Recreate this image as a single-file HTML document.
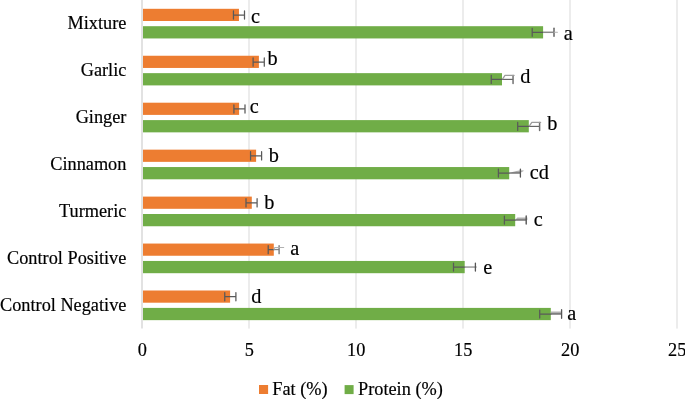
<!DOCTYPE html>
<html><head><meta charset="utf-8"><title>chart</title>
<style>
html,body{margin:0;padding:0;background:#fff;}
body{width:685px;height:399px;overflow:hidden;font-family:"Liberation Serif",serif;}
svg{display:block;will-change:transform;}
text{font-family:"Liberation Serif",serif;fill:#000;stroke:#000;stroke-width:0.18px;}
.c{font-size:18.3px;text-anchor:end;}
.a{font-size:18.3px;text-anchor:middle;}
.d{font-size:20.3px;}
.l{font-size:18.3px;}
</style></head><body>
<svg width="685" height="399" viewBox="0 0 685 399">
<defs><linearGradient id="gg" x1="0" y1="0" x2="0" y2="1"><stop offset="0" stop-color="#d2d2d2"/><stop offset="1" stop-color="#8c8c8c"/></linearGradient></defs>
<rect width="685" height="399" fill="#fff"/>
<line x1="142.0" y1="0" x2="142.0" y2="328.6" stroke="#D9D9D9" stroke-width="1.5"/>
<line x1="249.0" y1="0" x2="249.0" y2="328.6" stroke="#D9D9D9" stroke-width="1.0"/>
<line x1="356.0" y1="0" x2="356.0" y2="328.6" stroke="#D9D9D9" stroke-width="1.0"/>
<line x1="463.0" y1="0" x2="463.0" y2="328.6" stroke="#D9D9D9" stroke-width="1.0"/>
<line x1="570.0" y1="0" x2="570.0" y2="328.6" stroke="#D9D9D9" stroke-width="1.0"/>
<line x1="677.0" y1="0" x2="677.0" y2="328.6" stroke="#D9D9D9" stroke-width="1.0"/>
<rect x="143.0" y="8.8" width="95.95" height="12.2" fill="#ED7D31"/>
<rect x="143.0" y="26.2" width="400.10" height="12.25" fill="#70AD47"/>
<path d="M233.45 15.02H244.5M233.45 10.92V19.12M244.5 10.92V19.12" stroke="#595959" stroke-width="1.25" stroke-linecap="round" fill="none"/>
<path d="M532.2 32.3H543.1M532.2 28.30V36.3" stroke="#595959" stroke-width="1.25" stroke-linecap="round" fill="none"/>
<path d="M543.1 32.3H554.0" stroke="#8a8a8a" stroke-width="1.5" fill="none"/>
<path d="M554.0 28.30V36.3" stroke="#6e6e6e" stroke-width="1.6" stroke-linecap="round" fill="none"/>
<path d="M554.0 32.3H557.4" stroke="#b0b0b0" stroke-width="1.1" stroke-linecap="round" fill="none"/>
<text class="c" x="126.4" y="29.1">Mixture</text>
<text class="d" x="251.1" y="23.0">c</text>
<text class="d" x="563.7" y="39.5">a</text>
<rect x="143.0" y="55.75" width="115.90" height="12.2" fill="#ED7D31"/>
<rect x="143.0" y="73.15" width="359.00" height="12.25" fill="#70AD47"/>
<path d="M253.1 62.04H264.3M253.1 57.94V66.14M264.3 57.94V66.14" stroke="#595959" stroke-width="1.25" stroke-linecap="round" fill="none"/>
<path d="M491.25 79.4H502.0M491.25 75.4V83.4" stroke="#595959" stroke-width="1.25" stroke-linecap="round" fill="none"/>
<path d="M502.0 79.4H513.05" stroke="#666" stroke-width="1.2" fill="none"/>
<path d="M513.05 75.4V83.4" stroke="#707070" stroke-width="1.5" stroke-linecap="round" fill="none"/>
<path d="M502.7 78.80L505.0 75.4H514.05" stroke="#9c9c9c" stroke-width="1.25" stroke-linecap="round" stroke-linejoin="round" fill="none"/>
<text class="c" x="126.4" y="76.1">Garlic</text>
<text class="d" x="267.4" y="65.4">b</text>
<text class="d" x="520.3" y="83.0">d</text>
<rect x="143.0" y="102.7" width="96.10" height="12.2" fill="#ED7D31"/>
<rect x="143.0" y="120.10" width="385.80" height="12.25" fill="#70AD47"/>
<path d="M233.9 108.93H245.0M233.9 104.83V113.03M245.0 104.83V113.03" stroke="#595959" stroke-width="1.25" stroke-linecap="round" fill="none"/>
<path d="M517.7 126.4H528.8M517.7 122.4V130.4" stroke="#595959" stroke-width="1.25" stroke-linecap="round" fill="none"/>
<path d="M528.8 126.4H539.6" stroke="#666" stroke-width="1.2" fill="none"/>
<path d="M539.6 122.4V130.4" stroke="#707070" stroke-width="1.5" stroke-linecap="round" fill="none"/>
<path d="M529.5 125.80L531.8 122.4H540.6" stroke="#9c9c9c" stroke-width="1.25" stroke-linecap="round" stroke-linejoin="round" fill="none"/>
<text class="c" x="126.4" y="123.0">Ginger</text>
<text class="d" x="249.7" y="112.8">c</text>
<text class="d" x="547.2" y="129.8">b</text>
<rect x="143.0" y="149.65" width="113.10" height="12.2" fill="#ED7D31"/>
<rect x="143.0" y="167.05" width="366.20" height="12.25" fill="#70AD47"/>
<path d="M250.55 155.83H261.6M250.55 151.73V159.93M261.6 151.73V159.93" stroke="#595959" stroke-width="1.25" stroke-linecap="round" fill="none"/>
<path d="M498.4 173.05H509.2M498.4 169.05V177.05" stroke="#595959" stroke-width="1.25" stroke-linecap="round" fill="none"/>
<path d="M509.5 172.85L520.4 170.05L523.70 170.15V171.05L520.4 172.85Z" fill="url(#gg)"/>
<path d="M509.2 173.05H520.4" stroke="#606060" stroke-width="1.2" fill="none"/>
<path d="M520.4 169.05V177.05" stroke="#555" stroke-width="1.3" stroke-linecap="round" fill="none"/>
<text class="c" x="126.4" y="170.0">Cinnamon</text>
<text class="d" x="268.7" y="161.7">b</text>
<text class="d" x="529.7" y="178.5">cd</text>
<rect x="143.0" y="196.60" width="108.80" height="12.2" fill="#ED7D31"/>
<rect x="143.0" y="214.0" width="372.20" height="12.25" fill="#70AD47"/>
<path d="M246.0 202.83H257.1M246.0 198.73V206.93M257.1 198.73V206.93" stroke="#595959" stroke-width="1.25" stroke-linecap="round" fill="none"/>
<path d="M504.4 220.05H515.2M504.4 216.05V224.05" stroke="#595959" stroke-width="1.25" stroke-linecap="round" fill="none"/>
<path d="M515.5 219.85L517.40 217.25H527.40V219.85Z" fill="url(#gg)"/>
<path d="M515.2 220.05H526.2" stroke="#606060" stroke-width="1.2" fill="none"/>
<path d="M526.2 216.05V224.05" stroke="#555" stroke-width="1.4" stroke-linecap="round" fill="none"/>
<text class="c" x="126.4" y="216.9">Turmeric</text>
<text class="d" x="264.2" y="208.7">b</text>
<text class="d" x="533.8" y="225.5">c</text>
<rect x="143.0" y="243.55" width="130.80" height="12.2" fill="#ED7D31"/>
<rect x="143.0" y="260.95" width="321.70" height="12.25" fill="#70AD47"/>
<path d="M268.2 249.65H273.8M268.2 245.65V253.65" stroke="#595959" stroke-width="1.25" stroke-linecap="round" fill="none"/>
<path d="M273.8 249.55H279.1" stroke="#858585" stroke-width="1.3" fill="none"/>
<path d="M279.1 245.65V253.65" stroke="#7a7a7a" stroke-width="1.4" stroke-linecap="round" fill="none"/>
<path d="M274.0 249.15L274.8 247.55H283.70" stroke="#b0b0b0" stroke-width="1.1" stroke-linecap="round" stroke-linejoin="round" fill="none"/>
<path d="M453.5 267.05H464.7M453.5 263.05V271.05" stroke="#595959" stroke-width="1.25" stroke-linecap="round" fill="none"/>
<path d="M464.7 267.05H476.60" stroke="#8a8a8a" stroke-width="1.3" fill="none"/>
<path d="M475.4 263.05V271.05" stroke="#555" stroke-width="1.3" stroke-linecap="round" fill="none"/>
<text class="c" x="126.4" y="263.9">Control Positive</text>
<text class="d" x="290.3" y="255.3">a</text>
<text class="d" x="483.2" y="274.2">e</text>
<rect x="143.0" y="290.50" width="87.10" height="12.2" fill="#ED7D31"/>
<rect x="143.0" y="307.90" width="407.80" height="12.25" fill="#70AD47"/>
<path d="M224.75 296.67H235.9M224.75 292.57V300.77M235.9 292.57V300.77" stroke="#595959" stroke-width="1.25" stroke-linecap="round" fill="none"/>
<path d="M539.7 314.05H550.8M539.7 310.05V318.05" stroke="#595959" stroke-width="1.25" stroke-linecap="round" fill="none"/>
<path d="M551.0 313.85V311.25H561.6V313.85Z" fill="url(#gg)"/>
<path d="M550.8 314.05H561.6" stroke="#606060" stroke-width="1.2" fill="none"/>
<path d="M561.6 309.75V318.35" stroke="#555" stroke-width="1.3" stroke-linecap="round" fill="none"/>
<text class="c" x="126.4" y="310.8">Control Negative</text>
<text class="d" x="251.3" y="302.7">d</text>
<text class="d" x="567.2" y="319.5">a</text>
<text class="a" x="142.40" y="356.3">0</text>
<text class="a" x="249.2" y="356.3">5</text>
<text class="a" x="356.2" y="356.3">10</text>
<text class="a" x="463.2" y="356.3">15</text>
<text class="a" x="570.2" y="356.3">20</text>
<text class="a" x="677.2" y="356.3">25</text>
<rect x="259" y="385" width="9.1" height="9" fill="#ED7D31"/>
<text class="l" x="272.3" y="394.5">Fat (%)</text>
<rect x="344.6" y="385.1" width="9" height="9" fill="#70AD47"/>
<text class="l" x="358" y="394.5">Protein (%)</text>
</svg></body></html>
